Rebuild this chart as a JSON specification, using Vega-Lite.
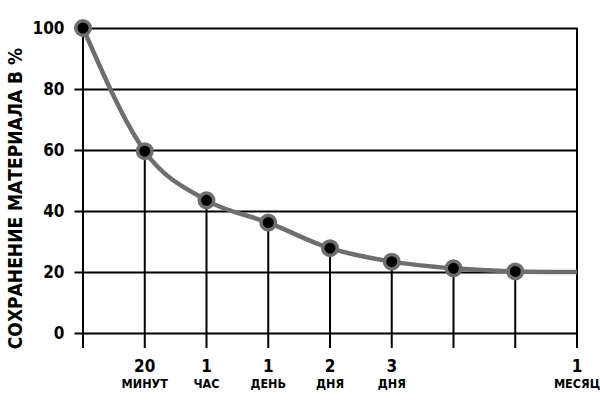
{
  "$schema": "https://vega.github.io/schema/vega-lite/v6.json",
  "width": 494,
  "height": 305,
  "autosize": {"type": "none"},
  "padding": {"left": 83, "top": 28, "right": 23, "bottom": 73},
  "background": "white",
  "config": {"view": {"stroke": null}},
  "datasets": {
    "pts": [
      {"i": 0, "v": 100, "num": "", "word": "", "dot": true},
      {"i": 1, "v": 59.6, "num": "20", "word": "МИНУТ", "dot": true},
      {"i": 2, "v": 43.5, "num": "1", "word": "ЧАС", "dot": true},
      {"i": 3, "v": 36.2, "num": "1", "word": "ДЕНЬ", "dot": true},
      {"i": 4, "v": 27.8, "num": "2", "word": "ДНЯ", "dot": true},
      {"i": 5, "v": 23.4, "num": "3", "word": "ДНЯ", "dot": true},
      {"i": 6, "v": 21.2, "num": "", "word": "", "dot": true},
      {"i": 7, "v": 20.2, "num": "", "word": "", "dot": true},
      {"i": 8, "v": 20, "num": "1", "word": "МЕСЯЦ", "dot": false}
    ],
    "drops": [
      {"i": 0, "top": 100, "bottom": -4.9},
      {"i": 1, "top": 59.6, "bottom": -4.9},
      {"i": 2, "top": 43.5, "bottom": -4.9},
      {"i": 3, "top": 36.2, "bottom": -4.9},
      {"i": 4, "top": 27.8, "bottom": -4.9},
      {"i": 5, "top": 23.4, "bottom": -4.9},
      {"i": 6, "top": 21.2, "bottom": -4.9},
      {"i": 7, "top": 20.2, "bottom": -4.9},
      {"i": 8, "top": 100, "bottom": -4.9}
    ]
  },
  "layer": [
    {
      "data": {"name": "drops"},
      "mark": {"type": "rule", "color": "black", "strokeWidth": 2},
      "encoding": {
        "x": {"field": "i", "type": "quantitative", "scale": {"domain": [0, 8]}, "axis": null},
        "y": {
          "field": "top", "type": "quantitative",
          "scale": {"domain": [0, 100], "nice": false},
          "axis": {
            "values": [0, 20, 40, 60, 80, 100],
            "grid": true, "gridColor": "black", "gridWidth": 2, "gridOpacity": 1,
            "domain": false,
            "ticks": true, "tickSize": 9, "tickColor": "black", "tickWidth": 2,
            "labelFont": "DejaVu Sans Condensed, sans-serif", "labelFontWeight": "bold", "labelFontSize": 17,
            "labelColor": "black", "labelPadding": 10,
            "title": "СОХРАНЕНИЕ МАТЕРИАЛА В %",
            "titleFont": "DejaVu Sans Condensed, sans-serif", "titleFontWeight": "bold", "titleFontSize": 19,
            "titleColor": "black",
            "titleX": -58, "titleY": 170, "titleAngle": -90, "titleAlign": "center", "titleBaseline": "bottom"
          }
        },
        "y2": {"field": "bottom"}
      }
    },
    {
      "data": {"name": "pts"},
      "mark": {"type": "line", "color": "#6e6e6e", "strokeWidth": 4.5, "interpolate": "monotone"},
      "encoding": {
        "x": {"field": "i", "type": "quantitative"},
        "y": {"field": "v", "type": "quantitative"}
      }
    },
    {
      "data": {"name": "pts"},
      "transform": [{"filter": "datum.dot"}],
      "mark": {"type": "point", "filled": true, "fill": "black", "stroke": "#6e6e6e", "strokeWidth": 3.5, "size": 210, "opacity": 1, "shape": "circle"},
      "encoding": {
        "x": {"field": "i", "type": "quantitative"},
        "y": {"field": "v", "type": "quantitative"}
      }
    },
    {
      "data": {"name": "pts"},
      "mark": {"type": "text", "font": "DejaVu Sans Condensed, sans-serif", "fontWeight": "bold", "fontSize": 17, "color": "black", "baseline": "alphabetic", "align": "center"},
      "encoding": {
        "x": {"field": "i", "type": "quantitative"},
        "y": {"datum": -12.8},
        "text": {"field": "num"}
      }
    },
    {
      "data": {"name": "pts"},
      "mark": {"type": "text", "font": "DejaVu Sans Condensed, sans-serif", "fontWeight": "bold", "fontSize": 12.5, "color": "black", "baseline": "alphabetic", "align": "center"},
      "encoding": {
        "x": {"field": "i", "type": "quantitative"},
        "y": {"datum": -18},
        "text": {"field": "word"}
      }
    }
  ]
}
